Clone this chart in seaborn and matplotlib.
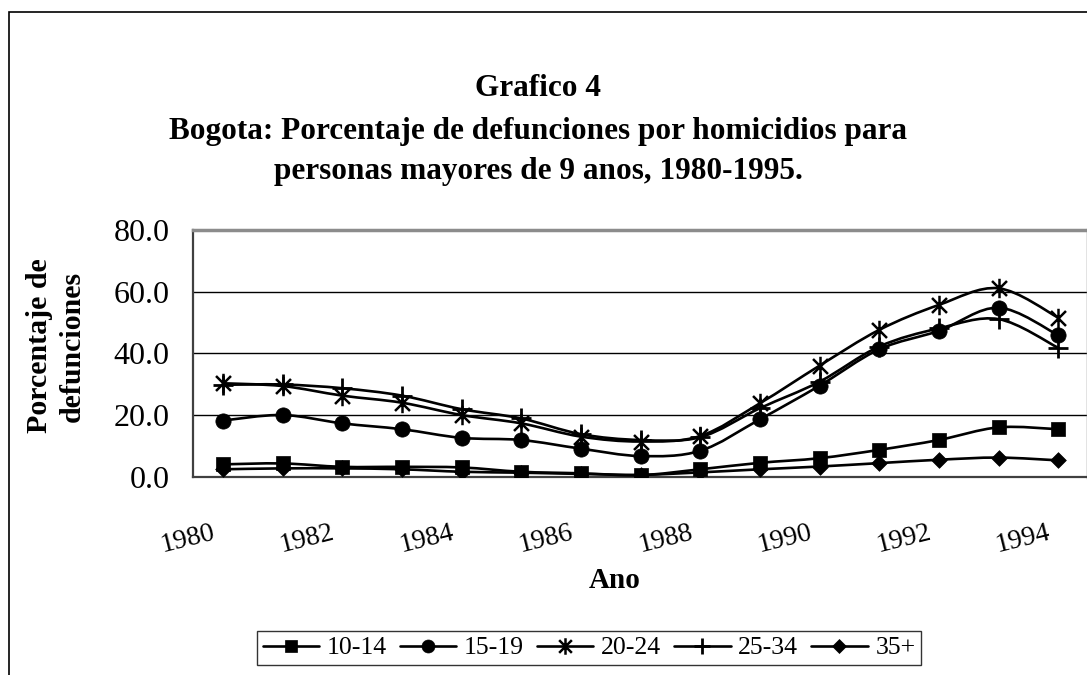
import numpy as np
import pandas as pd
import matplotlib
matplotlib.use("Agg")
import matplotlib.pyplot as plt
import seaborn as sns
from matplotlib.path import Path
from matplotlib.patches import PathPatch, Rectangle
from matplotlib.lines import Line2D
from matplotlib.transforms import ScaledTranslation

years = list(range(1980, 1995))
tick_years = [1980, 1982, 1984, 1986, 1988, 1990, 1992, 1994]
series_names = ["10-14", "15-19", "20-24", "25-34", "35+"]
v_10_14 = [4.0, 4.3, 3.2, 3.2, 3.0, 1.6, 1.1, 0.5, 2.4, 4.5, 6.0, 8.7, 11.9, 16.0, 15.4]
v_15_19 = [18.2, 20.0, 17.3, 15.4, 12.6, 11.9, 9.1, 6.7, 8.4, 18.6, 29.5, 41.3, 47.3, 54.8, 45.9]
v_20_24 = [30.3, 29.4, 26.3, 24.0, 20.0, 17.3, 13.0, 11.4, 13.2, 23.8, 36.0, 47.6, 55.7, 61.1, 51.6]
v_25_34 = [29.8, 29.9, 28.7, 26.3, 21.9, 18.9, 13.8, 11.9, 12.8, 22.2, 30.8, 42.2, 48.1, 51.1, 41.8]
v_35p = [2.4, 2.7, 2.7, 2.4, 1.6, 1.3, 0.9, 0.6, 1.4, 2.4, 3.3, 4.4, 5.5, 6.2, 5.3]

values = {"10-14": v_10_14, "15-19": v_15_19, "20-24": v_20_24, "25-34": v_25_34, "35+": v_35p}

star = Path([(-1, -1), (1, 1), (-1, 1), (1, -1), (0, -1.3), (0, 1.3)],
            [Path.MOVETO, Path.LINETO, Path.MOVETO, Path.LINETO, Path.MOVETO, Path.LINETO])
markers = {"10-14": "s", "15-19": "o", "20-24": star, "25-34": "+", "35+": "D"}
msizes = {"10-14": 10, "15-19": 11, "20-24": 14, "25-34": 14, "35+": 8}
linew = {"10-14": 0.5, "15-19": 0.5, "20-24": 1.8, "25-34": 2.0, "35+": 0.5}

rows = []
for name in series_names:
    for i, (yr, v) in enumerate(zip(years, values[name])):
        rows.append({"serie": name, "idx": i, "year": yr, "value": v})
df = pd.DataFrame(rows)

sns.set_theme(style="white")
plt.rcParams["font.family"] = ["Liberation Serif", "DejaVu Serif"]
plt.rcParams["text.color"] = "black"
plt.rcParams["axes.labelcolor"] = "black"
plt.rcParams["xtick.color"] = "black"
plt.rcParams["ytick.color"] = "black"

W, H = 1087, 675
fig = plt.figure(figsize=(W / 100, H / 100), dpi=100)
fig.patch.set_facecolor("white")

# outer chart frame
fig.patches.append(Rectangle((9 / W, -0.2), 2.0, (H - 12) / H + 0.2, transform=fig.transFigure,
                             fill=False, edgecolor="black", lw=1.2, zorder=0))

ax = fig.add_axes([193 / W, 1 - 476.7 / H, 895 / W, (476.7 - 230) / H])
ax.set_facecolor("white")


def smooth_path(xs, ys):
    pts = np.column_stack([xs, ys]).astype(float)
    n = len(pts)
    verts = [pts[0]]
    codes = [Path.MOVETO]
    for i in range(n - 1):
        p0 = pts[i - 1] if i > 0 else pts[i]
        p1 = pts[i]
        p2 = pts[i + 1]
        p3 = pts[i + 2] if i + 2 < n else pts[i + 1]
        c1 = p1 + (p2 - p0) / 6.0
        c2 = p2 - (p3 - p1) / 6.0
        verts += [c1, c2, p2]
        codes += [Path.CURVE4] * 3
    return Path(verts, codes)


for name in series_names:
    sub = df[df.serie == name]
    ax.add_patch(PathPatch(smooth_path(sub.idx.values, sub.value.values), facecolor="none",
                           edgecolor="black", lw=1.9, zorder=3, transform=ax.transData))
    sns.scatterplot(data=sub, x="idx", y="value", ax=ax, marker=markers[name],
                    s=msizes[name] ** 2, color="black", edgecolor="black",
                    linewidth=linew[name], zorder=4, legend=False)

ax.set_xlim(-0.5, 14.5)
ax.set_ylim(0, 80)
ax.set_yticks([0, 20, 40, 60, 80])
ax.set_yticklabels([f"{v:.1f}" for v in [0, 20, 40, 60, 80]], fontsize=23)
ax.grid(axis="y", color="black", lw=1.0)
ax.set_axisbelow(True)

ax.set_xticks([years.index(y) for y in tick_years])
ax.set_xticklabels([str(y) for y in tick_years], fontsize=20, rotation=14,
                   ha="right", va="center", rotation_mode="anchor")
ax.set_xticks(np.arange(-0.5, 15, 1), minor=True)
ax.tick_params(axis="x", which="major", length=0, pad=40)
ax.tick_params(axis="x", which="minor", length=7, width=1.2, color="#404040", direction="out")
ax.tick_params(axis="y", which="major", length=7, width=1.2, color="#404040", direction="out", pad=10)
off = ScaledTranslation(-8 / 100, 0, fig.dpi_scale_trans)
for lab in ax.get_xticklabels():
    lab.set_transform(lab.get_transform() + off)

for s in ["left", "bottom"]:
    ax.spines[s].set_color("#404040")
    ax.spines[s].set_linewidth(1.6)
for s in ["top", "right"]:
    ax.spines[s].set_color("#8c8c8c")
    ax.spines[s].set_linewidth(2.5)

ax.set_xlabel("")
ax.set_ylabel("")
fig.text(56 / W, 1 - 346 / H, "Porcentaje de\ndefunciones", rotation=90, ha="center", va="center",
         fontsize=21.5, fontweight="bold", linespacing=1.25)
fig.text(615 / W, 1 - 581 / H, "Ano", ha="center", va="center", fontsize=21, fontweight="bold")

fig.text(538 / W, 1 - 88 / H, "Grafico 4", ha="center", va="center", fontsize=22.5, fontweight="bold")
fig.text(538 / W, 1 - 131 / H, "Bogota: Porcentaje de defunciones por homicidios para",
         ha="center", va="center", fontsize=22.5, fontweight="bold")
fig.text(538 / W, 1 - 172 / H, "personas mayores de 9 anos, 1980-1995.",
         ha="center", va="center", fontsize=22.5, fontweight="bold")

handles = [Line2D([0], [0], color="black", lw=1.9, marker=markers[n], markersize=msizes[n] * 0.85,
                  markeredgewidth=linew[n], markerfacecolor="black", markeredgecolor="black")
           for n in series_names]
leg = fig.legend(handles, series_names, loc="center", bbox_to_anchor=(589 / W, 1 - 648 / H),
                 ncol=5, fontsize=18.5, frameon=True, fancybox=False, handlelength=2.2,
                 handletextpad=0.3, columnspacing=0.5, borderpad=0.2, borderaxespad=0.2)
leg.get_frame().set_edgecolor("black")
leg.get_frame().set_linewidth(1.0)

fig.savefig("out.png", dpi=100, facecolor="white")
